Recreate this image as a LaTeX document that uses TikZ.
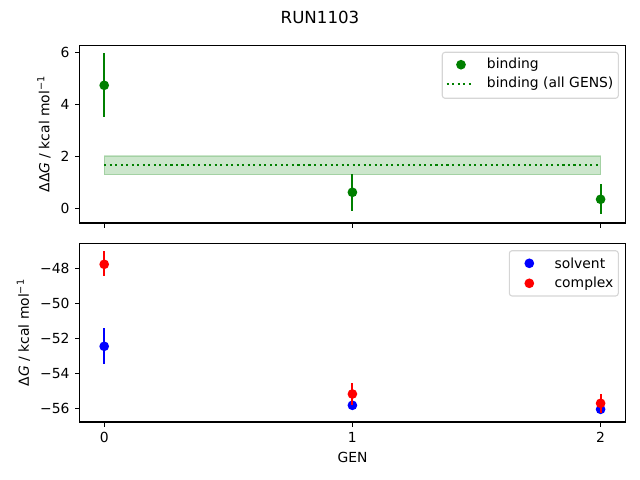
\documentclass[tikz,border=0pt]{standalone}
\usepackage{fontspec}
\setmainfont{DejaVu Sans}
\definecolor{mgreen}{HTML}{008000}
\definecolor{mblue}{HTML}{0000FF}
\definecolor{mred}{HTML}{FF0000}
\definecolor{lframe}{HTML}{CCCCCC}
\begin{document}
\begin{tikzpicture}[x=0.72pt,y=-0.72pt,
  axisframe/.style={line width=0.8pt, draw=black},
  tickmark/.style={line width=0.8pt},
  ticklab/.style={font=\fontsize{10}{12}\selectfont, inner sep=0pt},
  ebar/.style={line width=1.5pt},
  legendbox/.style={fill=white, fill opacity=0.8, draw=lframe, draw opacity=0.8, line width=0.8pt, rounded corners=2pt},
  legtext/.style={font=\fontsize{10}{12}\selectfont, inner sep=0pt, anchor=west},
  band/.style={fill=mgreen, fill opacity=0.2, draw=mgreen, draw opacity=0.2, line width=1pt},
  dotline/.style={draw=mgreen, line width=1.5pt, dash pattern=on 1.5pt off 2.475pt}
]
\def\mr{3.5pt}
\useasboundingbox (0,0) rectangle (640,480);
% title
\node[font=\fontsize{12}{14}\selectfont, inner sep=0pt] (title) at (320,17) {RUN1103};

% ================= TOP PANEL =================
\path[band] (104.2,156) rectangle (600.6,174.7);
\draw[dotline] (104.2,165) -- (600.6,165);
\draw[ebar, mgreen] (104.2,53) -- (104.2,116.7);
\draw[ebar, mgreen] (352.4,174.1) -- (352.4,210.7);
\draw[ebar, mgreen] (600.6,184) -- (600.6,214.3);
\fill[mgreen] (104.2,85.3) circle (\mr);
\fill[mgreen] (352.4,192.3) circle (\mr);
\fill[mgreen] (600.6,199.3) circle (\mr);
\draw[axisframe] (79.4,45.3) rectangle (625.6,223);
\foreach \v/\yy in {0/208.3,2/156.3,4/104.3,6/52.3}{
  \draw[tickmark] (79.4,\yy) -- (74.5,\yy);
  \node[ticklab, anchor=east] at (69.7,\yy) {\v};
}
\foreach \xx in {104.2,352.4,600.6}{
  \draw[tickmark] (\xx,223) -- (\xx,227.9);
}
\node[font=\fontsize{10}{12}\selectfont, rotate=90, inner sep=0pt] (ylabtop) at (44,134) {ΔΔ\textit{G} / kcal mol\textsuperscript{−1}};
\path[legendbox] (442.3,52.3) rectangle (618.3,98.3);
\fill[mgreen] (461,64.7) circle (\mr);
\node[legtext] (lbind) at (486.7,64.7) {binding};
\draw[dotline] (446.7,84) -- (474.3,84);
\node[legtext] (lall) at (486.7,84) {binding (all GENS)};

% ================= BOTTOM PANEL =================
\draw[ebar, mblue] (104.2,328) -- (104.2,363.7);
\draw[ebar, mblue] (352.4,403.5) -- (352.4,407.1);
\draw[ebar, mblue] (600.6,407.5) -- (600.6,411.1);
\fill[mblue] (104.2,346.3) circle (\mr);
\fill[mblue] (352.4,405.3) circle (\mr);
\fill[mblue] (600.6,409.3) circle (\mr);
\draw[ebar, mred] (104.2,251) -- (104.2,275.7);
\draw[ebar, mred] (352.4,383.3) -- (352.4,404.5);
\draw[ebar, mred] (600.6,394) -- (600.6,412.7);
\fill[mred] (104.2,264.3) circle (\mr);
\fill[mred] (352.4,394) circle (\mr);
\fill[mred] (600.6,403.3) circle (\mr);
\draw[axisframe] (79.4,243.3) rectangle (625.6,422);
\foreach \v/\yy in {48/268.3,50/303.4,52/338.5,54/373.6,56/408.7}{
  \draw[tickmark] (79.4,\yy) -- (74.5,\yy);
  \node[ticklab, anchor=east] at (69.7,\yy) {−\v};
}
\foreach \xx/\g in {104.2/0,352.4/1,600.6/2}{
  \draw[tickmark] (\xx,422) -- (\xx,426.9);
  \node[ticklab, anchor=north] at (\xx,432.4) {\g};
}
\node[font=\fontsize{10}{12}\selectfont, inner sep=0pt] (xlab) at (352.5,457) {GEN};
\node[font=\fontsize{10}{12}\selectfont, rotate=90, inner sep=0pt] (ylabbot) at (23.5,332.6) {Δ\textit{G} / kcal mol\textsuperscript{−1}};
\path[legendbox] (509.3,250.7) rectangle (618.3,296);
\fill[mblue] (529.3,263.3) circle (\mr);
\node[legtext] (lsolv) at (554.3,263.3) {solvent};
\fill[mred] (529.3,283.3) circle (\mr);
\node[legtext] (lcomp) at (554.3,283.3) {complex};
\end{tikzpicture}
\end{document}
